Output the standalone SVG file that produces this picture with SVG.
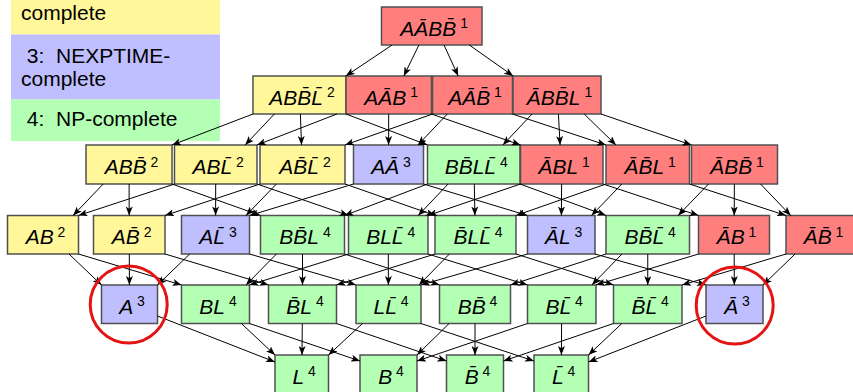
<svg xmlns="http://www.w3.org/2000/svg" width="853" height="392" viewBox="0 0 853 392">
  <style>
    .box { stroke: #505050; stroke-width: 1.5; }
    .y { fill: #FFF799; }
    .r { fill: #FF7F7F; }
    .b { fill: #BFBFFF; }
    .g { fill: #B3FFB3; }
    .lb { font-family: "Liberation Sans", Arial, sans-serif; font-style: italic; font-size: 21px; fill: #000; text-anchor: middle; }
    .sp { font-style: normal; font-size: 14px; }
    .lg { font-family: "Liberation Sans", Arial, sans-serif; font-size: 21px; fill: #000; }
    #edges line { stroke: #000; stroke-width: 1; marker-end: url(#arrow); }
    .ring { fill: none; stroke: #E51414; stroke-width: 3; }
  </style>
  <defs>
    <marker id="arrow" markerUnits="userSpaceOnUse" markerWidth="9" markerHeight="7" refX="9" refY="3.5" orient="auto">
      <path d="M0,0 L9,3.5 L0,7 L2.2,3.5 z" fill="#000"/>
    </marker>
  </defs>

  <!-- legend -->
  <g id="legend">
    <rect x="11" y="0" width="209" height="34.5" class="y"/>
    <rect x="11" y="34.5" width="209" height="65" class="b"/>
    <rect x="11" y="99.5" width="209" height="41.5" class="g"/>
    <text class="lg" x="21" y="20">complete</text>
    <text class="lg" x="21" y="63">&#160;3:&#160; NEXPTIME-</text>
    <text class="lg" x="21" y="86">complete</text>
    <text class="lg" x="21" y="126">&#160;4:&#160; NP-complete</text>
  </g>

  <!-- row 0 -->
  <g id="n-AAbBBb"><rect class="box r" x="381.5" y="7" width="100.5" height="38"/><text class="lb" x="434.2" y="35.5">A&#256;BB&#772;<tspan class="sp" dy="-7.5"> 1</tspan></text></g>

  <!-- row 1 -->
  <g id="n-ABBbLb"><rect class="box y" x="253" y="76" width="93" height="38"/><text class="lb" x="302" y="104.5">ABB&#772;L&#772;<tspan class="sp" dy="-7.5"> 2</tspan></text></g>
  <g id="n-AAbB"><rect class="box r" x="346" y="76" width="85.5" height="38"/><text class="lb" x="391.2" y="104.5">A&#256;B<tspan class="sp" dy="-7.5"> 1</tspan></text></g>
  <g id="n-AAbBb"><rect class="box r" x="432.5" y="76" width="80" height="38"/><text class="lb" x="475" y="104.5">A&#256;B&#772;<tspan class="sp" dy="-7.5"> 1</tspan></text></g>
  <g id="n-AbBBbL"><rect class="box r" x="513" y="76" width="88" height="38"/><text class="lb" x="559.5" y="104.5">&#256;BB&#772;L<tspan class="sp" dy="-7.5"> 1</tspan></text></g>

  <!-- row 2 -->
  <g id="n-ABBb"><rect class="box y" x="86" y="145" width="86" height="39"/><text class="lb" x="131.5" y="174">ABB&#772;<tspan class="sp" dy="-7.5"> 2</tspan></text></g>
  <g id="n-ABLb"><rect class="box y" x="174.5" y="145" width="82.5" height="39"/><text class="lb" x="218.2" y="174">ABL&#772;<tspan class="sp" dy="-7.5"> 2</tspan></text></g>
  <g id="n-ABbLb"><rect class="box y" x="260" y="145" width="85" height="39"/><text class="lb" x="305" y="174">AB&#772;L&#772;<tspan class="sp" dy="-7.5"> 2</tspan></text></g>
  <g id="n-AAb"><rect class="box b" x="353.5" y="145" width="70" height="39"/><text class="lb" x="391" y="174">A&#256;<tspan class="sp" dy="-7.5"> 3</tspan></text></g>
  <g id="n-BBbLLb"><rect class="box g" x="427.5" y="145" width="92.5" height="39"/><text class="lb" x="476.2" y="174">BB&#772;LL&#772;<tspan class="sp" dy="-7.5"> 4</tspan></text></g>
  <g id="n-AbBL"><rect class="box r" x="520.5" y="145" width="82.5" height="39"/><text class="lb" x="564.2" y="174">&#256;BL<tspan class="sp" dy="-7.5"> 1</tspan></text></g>
  <g id="n-AbBbL"><rect class="box r" x="606" y="145" width="83.5" height="39"/><text class="lb" x="650.2" y="174">&#256;B&#772;L<tspan class="sp" dy="-7.5"> 1</tspan></text></g>
  <g id="n-AbBBb"><rect class="box r" x="691.5" y="145" width="86" height="39"/><text class="lb" x="737" y="174">&#256;BB&#772;<tspan class="sp" dy="-7.5"> 1</tspan></text></g>

  <!-- row 3 -->
  <g id="n-AB"><rect class="box y" x="7.5" y="215.5" width="71" height="38.5"/><text class="lb" x="45.5" y="244.2">AB<tspan class="sp" dy="-7.5"> 2</tspan></text></g>
  <g id="n-ABb"><rect class="box y" x="93.5" y="215.5" width="71.5" height="38.5"/><text class="lb" x="131.7" y="244.2">AB&#772;<tspan class="sp" dy="-7.5"> 2</tspan></text></g>
  <g id="n-ALb"><rect class="box b" x="181.5" y="215.5" width="68" height="38.5"/><text class="lb" x="218" y="244.2">AL&#772;<tspan class="sp" dy="-7.5"> 3</tspan></text></g>
  <g id="n-BBbL"><rect class="box g" x="260.5" y="215.5" width="84" height="38.5"/><text class="lb" x="305" y="244.2">BB&#772;L<tspan class="sp" dy="-7.5"> 4</tspan></text></g>
  <g id="n-BLLb"><rect class="box g" x="348.5" y="215.5" width="79.5" height="38.5"/><text class="lb" x="390.7" y="244.2">BLL&#772;<tspan class="sp" dy="-7.5"> 4</tspan></text></g>
  <g id="n-BbLLb"><rect class="box g" x="435" y="215.5" width="81" height="38.5"/><text class="lb" x="478" y="244.2">B&#772;LL&#772;<tspan class="sp" dy="-7.5"> 4</tspan></text></g>
  <g id="n-AbL"><rect class="box b" x="527.5" y="215.5" width="67.5" height="38.5"/><text class="lb" x="563.7" y="244.2">&#256;L<tspan class="sp" dy="-7.5"> 3</tspan></text></g>
  <g id="n-BBbLb"><rect class="box g" x="606" y="215.5" width="83.5" height="38.5"/><text class="lb" x="650.2" y="244.2">BB&#772;L&#772;<tspan class="sp" dy="-7.5"> 4</tspan></text></g>
  <g id="n-AbB"><rect class="box r" x="698.5" y="215.5" width="71" height="38.5"/><text class="lb" x="736.5" y="244.2">&#256;B<tspan class="sp" dy="-7.5"> 1</tspan></text></g>
  <g id="n-AbBb"><rect class="box r" x="786" y="215.5" width="70" height="38.5"/><text class="lb" x="823.5" y="244.2">&#256;B&#772;<tspan class="sp" dy="-7.5"> 1</tspan></text></g>

  <!-- row 4 -->
  <g id="n-A"><rect class="box b" x="101.5" y="285" width="56" height="38.5"/><text class="lb" x="132" y="313.7">A<tspan class="sp" dy="-7.5"> 3</tspan></text></g>
  <g id="n-BL"><rect class="box g" x="181.5" y="285" width="68" height="38.5"/><text class="lb" x="218" y="313.7">BL<tspan class="sp" dy="-7.5"> 4</tspan></text></g>
  <g id="n-BbL"><rect class="box g" x="268.5" y="285" width="68" height="38.5"/><text class="lb" x="305" y="313.7">B&#772;L<tspan class="sp" dy="-7.5"> 4</tspan></text></g>
  <g id="n-LLb"><rect class="box g" x="356" y="285" width="65" height="38.5"/><text class="lb" x="391" y="313.7">LL&#772;<tspan class="sp" dy="-7.5"> 4</tspan></text></g>
  <g id="n-BBb"><rect class="box g" x="439.5" y="285" width="71" height="38.5"/><text class="lb" x="477.5" y="313.7">BB&#772;<tspan class="sp" dy="-7.5"> 4</tspan></text></g>
  <g id="n-BLb"><rect class="box g" x="527.5" y="285" width="68.5" height="38.5"/><text class="lb" x="564.2" y="313.7">BL&#772;<tspan class="sp" dy="-7.5"> 4</tspan></text></g>
  <g id="n-BbLb"><rect class="box g" x="613.5" y="285" width="68.5" height="38.5"/><text class="lb" x="650.2" y="313.7">B&#772;L&#772;<tspan class="sp" dy="-7.5"> 4</tspan></text></g>
  <g id="n-Ab"><rect class="box b" x="706" y="285" width="57" height="38.5"/><text class="lb" x="737" y="313.7">&#256;<tspan class="sp" dy="-7.5"> 3</tspan></text></g>

  <!-- row 5 -->
  <g id="n-L"><rect class="box g" x="275" y="355" width="53.5" height="38"/><text class="lb" x="304.2" y="383.5">L<tspan class="sp" dy="-7.5"> 4</tspan></text></g>
  <g id="n-B"><rect class="box g" x="360" y="355" width="57" height="38"/><text class="lb" x="391" y="383.5">B<tspan class="sp" dy="-7.5"> 4</tspan></text></g>
  <g id="n-Bb"><rect class="box g" x="446.5" y="355" width="57" height="38"/><text class="lb" x="477.5" y="383.5">B&#772;<tspan class="sp" dy="-7.5"> 4</tspan></text></g>
  <g id="n-Lb"><rect class="box g" x="534" y="355" width="54.5" height="38"/><text class="lb" x="563.7" y="383.5">L&#772;<tspan class="sp" dy="-7.5"> 4</tspan></text></g>

  <!-- connectors: each fragment points to its immediate sub-fragments -->
  <g id="edges">
    <line x1="392.1" y1="45" x2="345.8" y2="76"/>
    <line x1="418.9" y1="45" x2="403.8" y2="76"/>
    <line x1="444" y1="45" x2="458.2" y2="76"/>
    <line x1="469.3" y1="45" x2="513.2" y2="76"/>

    <line x1="253" y1="114" x2="172" y2="145"/>
    <line x1="274.4" y1="114" x2="245.1" y2="145"/>
    <line x1="300.4" y1="114" x2="301.5" y2="145"/>
    <line x1="346" y1="114" x2="427.5" y2="145"/>
    <line x1="336.9" y1="114" x2="257" y2="145"/>
    <line x1="388.7" y1="114" x2="388.6" y2="145"/>
    <line x1="431.5" y1="114" x2="520.5" y2="145"/>
    <line x1="432.5" y1="114" x2="345" y2="145"/>
    <line x1="447.3" y1="114" x2="417.9" y2="145"/>
    <line x1="512.5" y1="114" x2="606" y2="145"/>
    <line x1="532" y1="114" x2="502.9" y2="145"/>
    <line x1="558.4" y1="114" x2="560.1" y2="145"/>
    <line x1="584.2" y1="114" x2="616" y2="145"/>
    <line x1="601" y1="114" x2="691.5" y2="145"/>

    <line x1="103.2" y1="184" x2="73.1" y2="215.5"/>
    <line x1="129.1" y1="184" x2="129.2" y2="215.5"/>
    <line x1="172" y1="184" x2="260.5" y2="215.5"/>
    <line x1="174.5" y1="184" x2="78.5" y2="215.5"/>
    <line x1="215.7" y1="184" x2="215.6" y2="215.5"/>
    <line x1="257" y1="184" x2="348.5" y2="215.5"/>
    <line x1="260" y1="184" x2="165" y2="215.5"/>
    <line x1="276.4" y1="184" x2="246" y2="215.5"/>
    <line x1="345" y1="184" x2="435" y2="215.5"/>
    <line x1="353.5" y1="184" x2="249.5" y2="215.5"/>
    <line x1="423.5" y1="184" x2="527.5" y2="215.5"/>
    <line x1="427.5" y1="184" x2="344.5" y2="215.5"/>
    <line x1="448.1" y1="184" x2="418.2" y2="215.5"/>
    <line x1="474.3" y1="184" x2="474.9" y2="215.5"/>
    <line x1="520" y1="184" x2="606" y2="215.5"/>
    <line x1="520.5" y1="184" x2="428" y2="215.5"/>
    <line x1="561.6" y1="184" x2="561.4" y2="215.5"/>
    <line x1="603" y1="184" x2="698.5" y2="215.5"/>
    <line x1="606" y1="184" x2="516" y2="215.5"/>
    <line x1="621.8" y1="184" x2="591.5" y2="215.5"/>
    <line x1="689.5" y1="184" x2="786" y2="215.5"/>
    <line x1="708.5" y1="184" x2="678.1" y2="215.5"/>
    <line x1="734.4" y1="184" x2="734.2" y2="215.5"/>
    <line x1="760.5" y1="184" x2="790.7" y2="215.5"/>

    <line x1="69" y1="254" x2="101.5" y2="285"/>
    <line x1="78.5" y1="254" x2="181.5" y2="285"/>
    <line x1="129.3" y1="254" x2="129.4" y2="285"/>
    <line x1="165" y1="254" x2="268.5" y2="285"/>
    <line x1="189.7" y1="254" x2="157.5" y2="285"/>
    <line x1="249.5" y1="254" x2="356" y2="285"/>
    <line x1="276.4" y1="254" x2="246" y2="285"/>
    <line x1="302.5" y1="254" x2="302.5" y2="285"/>
    <line x1="344.5" y1="254" x2="439.5" y2="285"/>
    <line x1="348.5" y1="254" x2="249.5" y2="285"/>
    <line x1="388.3" y1="254" x2="388.4" y2="285"/>
    <line x1="428" y1="254" x2="527.5" y2="285"/>
    <line x1="435" y1="254" x2="336.5" y2="285"/>
    <line x1="449.4" y1="254" x2="419" y2="285"/>
    <line x1="516" y1="254" x2="613.5" y2="285"/>
    <line x1="527.5" y1="254" x2="421" y2="285"/>
    <line x1="595" y1="254" x2="706" y2="285"/>
    <line x1="606" y1="254" x2="510.5" y2="285"/>
    <line x1="622" y1="254" x2="591.9" y2="285"/>
    <line x1="647.75" y1="254" x2="647.75" y2="285"/>
    <line x1="698.5" y1="254" x2="596" y2="285"/>
    <line x1="734.2" y1="254" x2="734.3" y2="285"/>
    <line x1="786" y1="254" x2="682" y2="285"/>
    <line x1="795.1" y1="254" x2="763" y2="285"/>

    <line x1="157.5" y1="316" x2="275" y2="362"/>
    <line x1="241.4" y1="323.5" x2="275" y2="355"/>
    <line x1="249.5" y1="323.5" x2="360" y2="361"/>
    <line x1="302.3" y1="323.5" x2="302" y2="355"/>
    <line x1="336.5" y1="323.5" x2="446.5" y2="361"/>
    <line x1="362.5" y1="323.5" x2="328.5" y2="355"/>
    <line x1="421" y1="323.5" x2="534" y2="361"/>
    <line x1="449.1" y1="323.5" x2="417" y2="355"/>
    <line x1="475" y1="323.5" x2="475" y2="355"/>
    <line x1="527.5" y1="323.5" x2="417" y2="361"/>
    <line x1="561.6" y1="323.5" x2="561.4" y2="355"/>
    <line x1="613.5" y1="323.5" x2="503.5" y2="361"/>
    <line x1="621.8" y1="323.5" x2="588.5" y2="355"/>
    <line x1="706" y1="316" x2="588.5" y2="362"/>
  </g>

  <!-- highlight rings -->
  <circle class="ring" cx="128.7" cy="304.5" r="38.5"/>
  <circle class="ring" cx="734.7" cy="305.5" r="38.5"/>
</svg>
